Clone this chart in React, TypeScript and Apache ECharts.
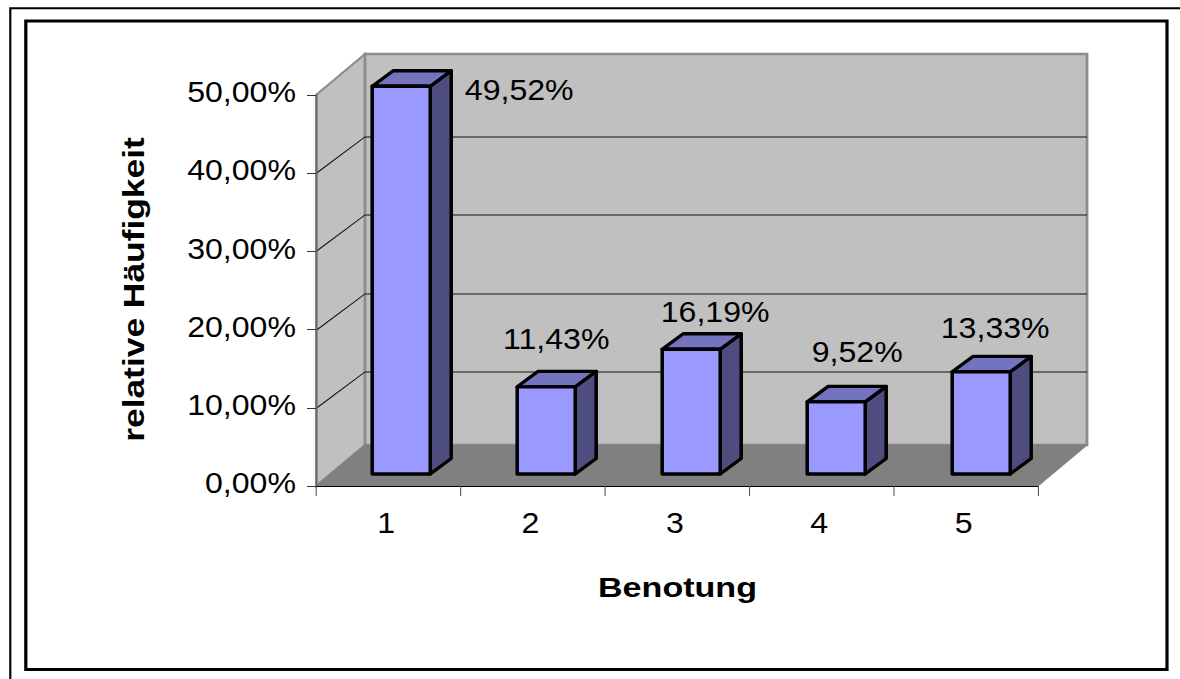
import React, { useEffect, useRef } from "react";
import * as echarts from "echarts";

const categories = ["1", "2", "3", "4", "5"];
const percentValues = [49.52, 11.43, 16.19, 9.52, 13.33];
const valueTicks = [0, 10, 20, 30, 40, 50];
const xTitle = "Benotung";
const yTitle = "relative Häufigkeit";

// The reference is a picture stretched horizontally; the whole chart is stretched by the same factor.
const SX = 1.07;
const PAGE_W = 1180;
const PAGE_H = 679;
const px = (x: number) => x / SX;

const FONT = "'Liberation Sans', Arial, sans-serif";
const WALL = "#C0C0C0";
const FLOOR = "#808080";
const EDGE = "#8C8C8C";
const BAR_FRONT = "#9999FF";
const BAR_TOP = "#7373BF";
const BAR_SIDE = "#4D4D80";

const WALL_DX = px(49);
const WALL_DY = 41;
const GRID_DY = 36.6;
const BAR_SHIFT = px(13);
const BAR_SPREAD = px(0.6);
const BAR_BASE_LIFT = 12;
const BAR_TOP_LIFT = 9;
const BAR_RISE = 1.009;
const BAR_W = px(58);
const BAR_DX = px(21);
const BAR_DY = 15.5;
// hand-placed data labels: offset of the label's centre from the bar's top-front centre
const labelOffsets = [
  [118, 4],
  [10, -48],
  [24, -37],
  [21, -50],
  [14, -44],
];

const fmt = (v: number) => v.toFixed(2).replace(".", ",") + "%";

function renderWalls(params: any, api: any) {
  const cs = params.coordSys;
  const left = cs.x;
  const right = cs.x + cs.width;
  const y0 = api.coord([0, 0])[1];
  const yTop = api.coord([0, valueTicks[valueTicks.length - 1]])[1];
  const children: any[] = [
    {
      type: "polygon",
      shape: { points: [[left, yTop], [left + WALL_DX, yTop - WALL_DY], [left + WALL_DX, y0 - WALL_DY], [left, y0]] },
      style: { fill: WALL, stroke: EDGE, lineWidth: 2 },
    },
    {
      type: "polygon",
      shape: {
        points: [
          [left + WALL_DX, yTop - WALL_DY],
          [right + WALL_DX, yTop - WALL_DY],
          [right + WALL_DX, y0 - WALL_DY],
          [left + WALL_DX, y0 - WALL_DY],
        ],
      },
      style: { fill: WALL, stroke: EDGE, lineWidth: 2.6 },
    },
    {
      type: "polygon",
      shape: { points: [[left, y0], [right, y0], [right + WALL_DX, y0 - WALL_DY], [left + WALL_DX, y0 - WALL_DY]] },
      style: { fill: FLOOR, stroke: FLOOR, lineWidth: 1 },
    },
  ];
  valueTicks.slice(1, -1).forEach((t) => {
    const y = Math.round(api.coord([0, t])[1]) + 0.5;
    children.push({
      type: "polyline",
      shape: { points: [[left, y], [left + WALL_DX, y - GRID_DY], [right + WALL_DX, y - GRID_DY]] },
      style: { fill: "none", stroke: "#111111", lineWidth: 1 },
    });
  });
  return { type: "group", children };
}

function renderBar(params: any, api: any) {
  const i = api.value(0);
  const v = api.value(1);
  const base = api.coord([i, 0]);
  const top = api.coord([i, v]);
  const xl = base[0] + BAR_SHIFT + BAR_SPREAD * params.dataIndex - BAR_W / 2;
  const xr = xl + BAR_W;
  const yb = base[1] - BAR_BASE_LIFT;
  const yt = base[1] - BAR_TOP_LIFT - (base[1] - top[1]) * BAR_RISE;
  const stroke = { stroke: "#000000", lineWidth: 3.3, lineJoin: "round" };
  const off = labelOffsets[params.dataIndex];
  return {
    type: "group",
    children: [
      {
        type: "polygon",
        shape: { points: [[xr, yb], [xr + BAR_DX, yb - BAR_DY], [xr + BAR_DX, yt - BAR_DY], [xr, yt]] },
        style: { fill: BAR_SIDE, ...stroke },
      },
      {
        type: "polygon",
        shape: { points: [[xl, yt], [xr, yt], [xr + BAR_DX, yt - BAR_DY], [xl + BAR_DX, yt - BAR_DY]] },
        style: { fill: BAR_TOP, ...stroke },
      },
      {
        type: "polygon",
        shape: { points: [[xl, yb], [xr, yb], [xr, yt], [xl, yt]] },
        style: { fill: BAR_FRONT, ...stroke },
      },
      {
        type: "text",
        style: {
          text: fmt(v),
          x: (xl + xr) / 2 + px(off[0]),
          y: yt + off[1],
          align: "center",
          verticalAlign: "middle",
          fontFamily: FONT,
          fontSize: 30,
          fill: "#000000",
        },
      },
    ],
  };
}

export default function App() {
  const ref = useRef<HTMLDivElement>(null);
  useEffect(() => {
    const chart = echarts.init(ref.current!, undefined, { renderer: "svg" });
    chart.setOption({
      animation: false,
      backgroundColor: "#FFFFFF",
      grid: { left: px(316), width: px(722), top: 95, height: 391, containLabel: false },
      xAxis: {
        type: "category",
        data: categories,
        z: 3,
        axisLine: { lineStyle: { color: "#000000", width: 1 } },
        axisTick: { show: true, length: 10, lineStyle: { color: "#555555", width: 1 } },
        axisLabel: { fontFamily: FONT, fontSize: 30, color: "#000000", margin: 22, padding: [0, 4, 0, 0] },
      },
      yAxis: {
        type: "value",
        min: 0,
        max: 50,
        interval: 10,
        z: 3,
        splitLine: { show: false },
        axisLine: { show: true, lineStyle: { color: "#666666", width: 1.5 } },
        axisTick: { show: true, length: px(9), lineStyle: { color: "#333333", width: 1 } },
        axisLabel: {
          fontFamily: FONT,
          fontSize: 30,
          color: "#000000",
          margin: px(20),
          verticalAlign: "bottom",
          lineHeight: 6,
          formatter: (v: number) => fmt(v),
        },
      },
      series: [
        { type: "custom", silent: true, clip: false, z: 1, data: [[0, 0]], encode: { x: 0, y: 1 }, renderItem: renderWalls },
        {
          type: "custom",
          silent: true,
          clip: false,
          z: 2,
          data: percentValues.map((v, i) => [i, v]),
          encode: { x: 0, y: 1 },
          renderItem: renderBar,
        },
      ],
      graphic: [
        {
          type: "polyline",
          shape: { points: [[px(10.3), PAGE_H], [px(10.3), 8.3], [px(PAGE_W), 8.3]] },
          style: { fill: "none", stroke: "#000000", lineWidth: 2 },
        },
        {
          type: "rect",
          shape: { x: px(25.8), y: 21, width: px(1141.2), height: 648.5 },
          style: { fill: "none", stroke: "#000000", lineWidth: 3 },
        },
        {
          type: "text",
          x: px(677.5),
          y: 588,
          scaleX: 1.138,
          style: {
            text: xTitle,
            align: "center",
            verticalAlign: "middle",
            fontFamily: FONT,
            fontSize: 28,
            fontWeight: "bold",
            fill: "#000000",
          },
        },
        {
          type: "text",
          x: px(134),
          y: 289.5,
          rotation: Math.PI / 2,
          scaleX: 1.31,
          style: {
            text: yTitle,
            align: "center",
            verticalAlign: "middle",
            fontFamily: FONT,
            fontSize: 27,
            fontWeight: "bold",
            fill: "#000000",
          },
        },
      ],
    });
    return () => chart.dispose();
  }, []);
  return (
    <div
      ref={ref}
      style={{
        position: "absolute",
        left: 0,
        top: 0,
        width: PAGE_W / SX,
        height: PAGE_H,
        transform: `scaleX(${SX})`,
        transformOrigin: "0 0",
      }}
    />
  );
}
